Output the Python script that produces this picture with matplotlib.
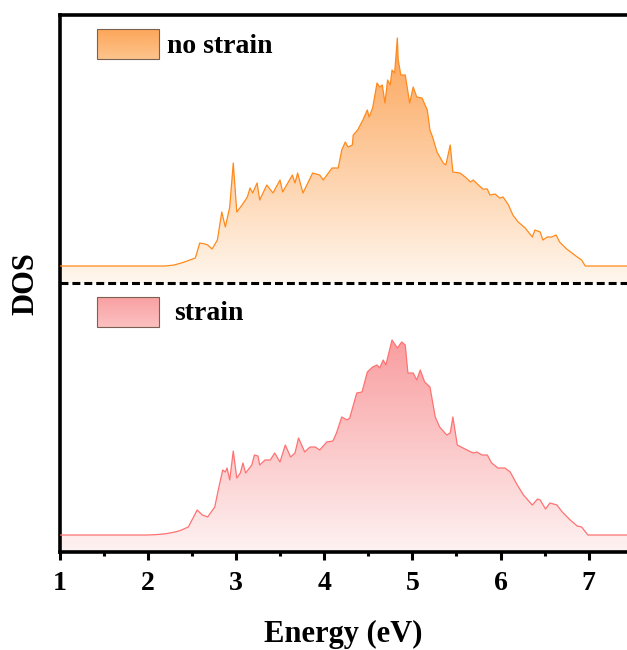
import numpy as np
import matplotlib
matplotlib.use('Agg')
import matplotlib.pyplot as plt
from matplotlib.patches import Rectangle

plt.rcParams['font.family'] = ['Liberation Serif', 'DejaVu Serif']
plt.rcParams['font.weight'] = 'bold'

# 数据: 能量 (eV) 和 DOS (任意单位)
e_nostrain = [1.00, 2.20, 2.30, 2.40, 2.54, 2.59, 2.65, 2.68, 2.73, 2.79, 2.84, 2.88, 2.93, 2.97,
              3.01, 3.07, 3.13, 3.16, 3.19, 3.24, 3.27, 3.35, 3.42, 3.50, 3.53, 3.64, 3.67,
              3.70, 3.76, 3.87, 3.95, 3.99, 4.09, 4.16, 4.20, 4.24, 4.27, 4.32, 4.33, 4.38,
              4.44, 4.49, 4.51, 4.55, 4.60, 4.63, 4.66, 4.69, 4.72, 4.75, 4.77, 4.80, 4.83,
              4.84, 4.87, 4.92, 4.97, 5.01, 5.05, 5.11, 5.17, 5.20, 5.23, 5.28, 5.35, 5.38,
              5.43, 5.46, 5.54, 5.60, 5.66, 5.69, 5.75, 5.80, 5.85, 5.88, 5.94, 5.99, 6.03,
              6.09, 6.14, 6.20, 6.28, 6.36, 6.39, 6.45, 6.48, 6.53, 6.58, 6.63, 6.67, 6.75,
              6.81, 6.87, 6.92, 6.96, 7.44]
dos_nostrain = [0.0, 0.0, 0.1, 0.35, 0.8, 2.3, 2.2, 2.1, 1.7, 2.6, 5.4, 3.9, 5.9, 10.3,
                5.4, 6.1, 6.9, 7.8, 7.3, 8.3, 6.6, 8.1, 7.3, 8.6, 7.4, 9.1, 8.3,
                9.3, 7.3, 9.3, 9.1, 8.6, 9.8, 9.8, 11.6, 12.4, 11.9, 12.1, 13.1, 13.6,
                14.6, 15.6, 14.9, 15.8, 18.3, 17.9, 18.1, 16.3, 18.6, 18.1, 19.6, 19.3, 22.8,
                20.6, 19.1, 19.1, 16.3, 17.9, 16.9, 16.8, 15.6, 13.6, 12.9, 11.4, 10.3, 10.1,
                12.1, 9.4, 9.3, 8.9, 8.4, 8.6, 8.1, 7.7, 7.7, 7.1, 7.2, 6.8, 6.9,
                6.1, 5.1, 4.4, 3.8, 2.9, 3.6, 3.4, 2.6, 2.9, 2.9, 3.1, 2.4, 1.7,
                1.3, 0.9, 0.6, 0.0, 0.0]

e_strain = [1.00, 2.00, 2.10, 2.20, 2.30, 2.37, 2.46, 2.52, 2.56, 2.62, 2.68, 2.76, 2.80, 2.85, 2.88,
            2.90, 2.93, 2.97, 3.01, 3.05, 3.08, 3.11, 3.18, 3.21, 3.25, 3.27, 3.33, 3.39,
            3.44, 3.50, 3.56, 3.62, 3.67, 3.71, 3.78, 3.84, 3.90, 3.95, 4.03, 4.10, 4.14,
            4.20, 4.26, 4.29, 4.37, 4.43, 4.49, 4.55, 4.60, 4.63, 4.67, 4.70, 4.77, 4.83,
            4.88, 4.92, 4.95, 5.01, 5.05, 5.09, 5.14, 5.20, 5.26, 5.31, 5.39, 5.43, 5.46,
            5.51, 5.62, 5.69, 5.73, 5.79, 5.85, 5.90, 5.97, 6.05, 6.11, 6.19, 6.26, 6.36,
            6.42, 6.45, 6.51, 6.56, 6.64, 6.70, 6.79, 6.87, 6.92, 6.99, 7.44]
dos_strain = [0.0, 0.0, 0.04, 0.12, 0.28, 0.45, 0.8, 1.8, 2.5, 2.0, 1.8, 2.8, 4.5, 6.5, 6.3,
              6.7, 5.5, 8.4, 5.7, 6.2, 7.2, 6.2, 7.0, 8.0, 7.9, 7.0, 7.5, 7.5,
              8.2, 7.3, 9.0, 7.8, 8.2, 9.7, 8.3, 8.8, 8.8, 8.5, 9.3, 9.4, 10.2,
              11.8, 11.5, 11.7, 14.2, 14.3, 16.3, 16.8, 17.0, 16.7, 17.5, 17.0, 19.5, 18.7,
              19.3, 19.0, 16.2, 16.2, 15.5, 16.5, 15.3, 14.8, 11.8, 10.8, 10.0, 10.2, 11.8,
              9.0, 8.5, 8.2, 8.3, 8.0, 8.0, 7.2, 6.7, 6.7, 6.3, 5.0, 4.0, 3.0,
              3.6, 3.5, 2.6, 3.2, 3.0, 2.3, 1.5, 0.9, 0.8, 0.0, 0.0]

labels = ['no strain', 'strain']
offsets = [28.6, 1.7]      # 纵向偏移
bases = [26.9, 0.0]        # 渐变填充的底
line_colors = ['#FF8A1C', '#FF7272']
top_colors = [(252, 163, 86), (249, 158, 160)]
bot_colors = [(255, 247, 238), (254, 242, 242)]
box_top = [(253, 166, 90), (249, 160, 162)]
box_bot = [(253, 196, 140), (252, 192, 192)]


def grad_fill(ax, x, y, base, c_top, c_bot):
    x = np.asarray(x)
    y = np.asarray(y)
    poly = ax.fill_between(x, y, base, facecolor='none', edgecolor='none')
    path = poly.get_paths()[0]
    t = np.linspace(0, 1, 256)[:, None]
    ct = np.array(c_top) / 255.0
    cb = np.array(c_bot) / 255.0
    arr = cb[None, :] * (1 - t) + ct[None, :] * t
    arr = np.repeat(arr[:, None, :], 2, axis=1)
    im = ax.imshow(arr, extent=[x.min(), x.max(), base, y.max()], origin='lower',
                   aspect='auto', zorder=1, interpolation='bilinear')
    im.set_clip_path(path, transform=ax.transData)


fig = plt.figure(figsize=(6.27, 6.5), dpi=100)
ax = fig.add_axes([59.5 / 627, 1 - 552 / 650, 1 - 59.5 / 627, (552 - 15) / 650])

series = [(e_nostrain, dos_nostrain), (e_strain, dos_strain)]
for i, (e, d) in enumerate(series):
    y = np.array(d) + offsets[i]
    grad_fill(ax, e, y, bases[i], top_colors[i], bot_colors[i])
    ax.plot(e, y, color=line_colors[i], lw=0.9, zorder=3)

ax.axhline(26.9, color='black', lw=2.2, dashes=(2.6, 1.3), zorder=4)

# 图例
box_y = [49.3, 22.5]
text_x = [2.22, 2.30]
for i in range(2):
    t = np.linspace(0, 1, 64)[:, None]
    arr = (np.array(box_bot[i]) * (1 - t) + np.array(box_top[i]) * t) / 255.0
    arr = np.repeat(arr[:, None, :], 2, axis=1)
    ax.imshow(arr, extent=[1.425, 2.128, box_y[i], box_y[i] + 3.0], origin='lower',
              aspect='auto', zorder=5)
    ax.add_patch(Rectangle((1.425, box_y[i]), 0.703, 3.0, fill=False,
                           edgecolor='#7a6050', lw=0.8, zorder=6))
    ax.text(text_x[i], box_y[i] + 1.3, labels[i], fontsize=20, fontweight='bold',
            va='center', ha='left', zorder=6)

ax.set_xlim(1, 7.434)
ax.set_ylim(0, 53.7)
ax.set_xticks([1, 2, 3, 4, 5, 6, 7])
ax.set_xticks(np.arange(1.5, 7.5, 1.0), minor=True)
ax.set_yticks([])
ax.tick_params(axis='x', which='major', direction='out', length=6, width=2.2,
               labelsize=20, pad=8)
ax.tick_params(axis='x', which='minor', direction='out', length=3, width=2.2)
for lab in ax.get_xticklabels():
    lab.set_fontweight('bold')
for s in ['left', 'top', 'bottom']:
    ax.spines[s].set_linewidth(2.6)
ax.spines['right'].set_visible(False)

ax.set_xlabel('Energy (eV)', fontsize=22, fontweight='bold', labelpad=17)
ax.set_ylabel('DOS', fontsize=22, fontweight='bold', labelpad=14)

fig.savefig('out.png', dpi=100)
